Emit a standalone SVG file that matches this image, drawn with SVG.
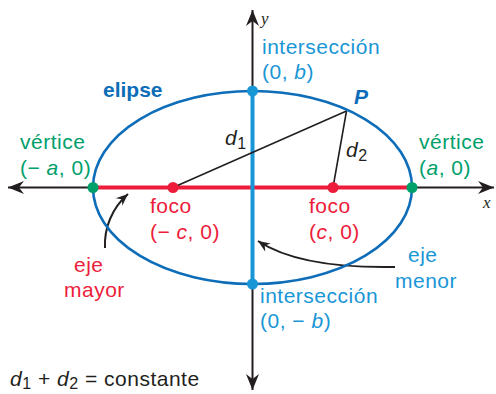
<svg xmlns="http://www.w3.org/2000/svg" width="496" height="394" viewBox="0 0 496 394">
<defs>
<style>
text{font-family:"Liberation Sans",Arial,sans-serif;font-size:21px;letter-spacing:0.5px}
.g{fill:#00a06b}.r{fill:#ec1c3a}.lb{fill:#1996d6}.db{fill:#0d6db8}.k{fill:#231f20}
.i{font-style:italic}
.sub{font-size:16px}
.ser{font-family:"Liberation Serif","Times New Roman",serif;font-style:italic;font-size:17px;letter-spacing:0}
</style>
<marker id="ax" viewBox="-16 -7 17 14" refX="0" refY="0" markerWidth="17" markerHeight="14" markerUnits="userSpaceOnUse" orient="auto-start-reverse">
<path d="M0,0 L-16,-6.5 L-11,0 L-16,6.5 Z" fill="#231f20"/>
</marker>
<marker id="sm" viewBox="-12 -6 13 12" refX="0" refY="0" markerWidth="13" markerHeight="12" markerUnits="userSpaceOnUse" orient="auto">
<path d="M0,0 L-12,-5 L-8,0 L-12,5 Z" fill="#231f20"/>
</marker>
</defs>
<g id="connectors" fill="none">
<line id="x-axis" x1="8" y1="187.5" x2="494" y2="187.5" stroke="#231f20" stroke-width="2" marker-start="url(#ax)" marker-end="url(#ax)"/>
<line id="y-axis" x1="252.5" y1="10" x2="252.5" y2="390" stroke="#231f20" stroke-width="2" marker-start="url(#ax)" marker-end="url(#ax)"/>
<line id="major-axis" x1="93" y1="187.5" x2="412" y2="187.5" stroke="#ec1c3a" stroke-width="4"/>
<line id="minor-axis" x1="252.5" y1="91" x2="252.5" y2="284" stroke="#1996d6" stroke-width="4"/>
<line id="d1-line" x1="173" y1="187.5" x2="346.5" y2="111" stroke="#231f20" stroke-width="1.6"/>
<line id="d2-line" x1="333" y1="187.5" x2="346.5" y2="111" stroke="#231f20" stroke-width="1.6"/>
<path id="arrow-mayor" d="M105,248 C104,228 112,208 128,194" stroke="#231f20" stroke-width="2" marker-end="url(#sm)"/>
<path id="arrow-menor" d="M395,267 C340,268 290,262 258,241" stroke="#231f20" stroke-width="2" marker-end="url(#sm)"/>
</g>
<g id="ellipse">
<ellipse cx="252.5" cy="187.5" rx="159.5" ry="96.5" fill="none" stroke="#0d6db8" stroke-width="2.6"/>
<text x="103" y="97" class="db" font-weight="bold" style="letter-spacing:0">elipse</text>
</g>
<g id="vertex-left">
<circle cx="93" cy="187.5" r="5.5" fill="#00a06b"/>
<text x="20" y="149" class="g">vértice</text>
<text x="20" y="175" class="g">(− <tspan class="i">a</tspan>, 0)</text>
</g>
<g id="vertex-right">
<circle cx="412" cy="187.5" r="5.5" fill="#00a06b"/>
<text x="419" y="149" class="g">vértice</text>
<text x="419" y="175" class="g">(<tspan class="i">a</tspan>, 0)</text>
</g>
<g id="focus-left">
<circle cx="173" cy="187.5" r="5.5" fill="#ec1c3a"/>
<text x="150" y="213" class="r">foco</text>
<text x="150" y="239" class="r">(− <tspan class="i">c</tspan>, 0)</text>
</g>
<g id="focus-right">
<circle cx="333" cy="187.5" r="5.5" fill="#ec1c3a"/>
<text x="309" y="213" class="r">foco</text>
<text x="309" y="239" class="r">(<tspan class="i">c</tspan>, 0)</text>
</g>
<g id="intercept-top">
<circle cx="252.5" cy="91" r="5.5" fill="#1996d6"/>
<text x="262" y="54" class="lb">intersección</text>
<text x="262" y="79" class="lb">(0, <tspan class="i">b</tspan>)</text>
</g>
<g id="intercept-bottom">
<circle cx="252.5" cy="284" r="5.5" fill="#1996d6"/>
<text x="260" y="303" class="lb">intersección</text>
<text x="260" y="328" class="lb">(0, − <tspan class="i">b</tspan>)</text>
</g>
<g id="point-P">
<text x="354" y="104" class="db i" font-weight="bold" style="letter-spacing:0">P</text>
</g>
<g id="label-d1">
<text x="225" y="145" class="k"><tspan class="i">d</tspan><tspan class="sub" dy="4">1</tspan></text>
</g>
<g id="label-d2">
<text x="346" y="157" class="k"><tspan class="i">d</tspan><tspan class="sub" dy="4">2</tspan></text>
</g>
<g id="label-eje-mayor">
<text x="74" y="272" class="r">eje</text>
<text x="64" y="297" class="r">mayor</text>
</g>
<g id="label-eje-menor">
<text x="408" y="262" class="lb">eje</text>
<text x="395" y="288" class="lb">menor</text>
</g>
<g id="axis-labels">
<text x="261" y="24" class="k ser">y</text>
<text x="483" y="208" class="k ser">x</text>
</g>
<g id="equation">
<text x="10" y="386" class="k"><tspan class="i">d</tspan><tspan class="sub" dy="3">1</tspan><tspan dy="-3"> + </tspan><tspan class="i">d</tspan><tspan class="sub" dy="3">2</tspan><tspan dy="-3"> = constante</tspan></text>
</g>
</svg>
